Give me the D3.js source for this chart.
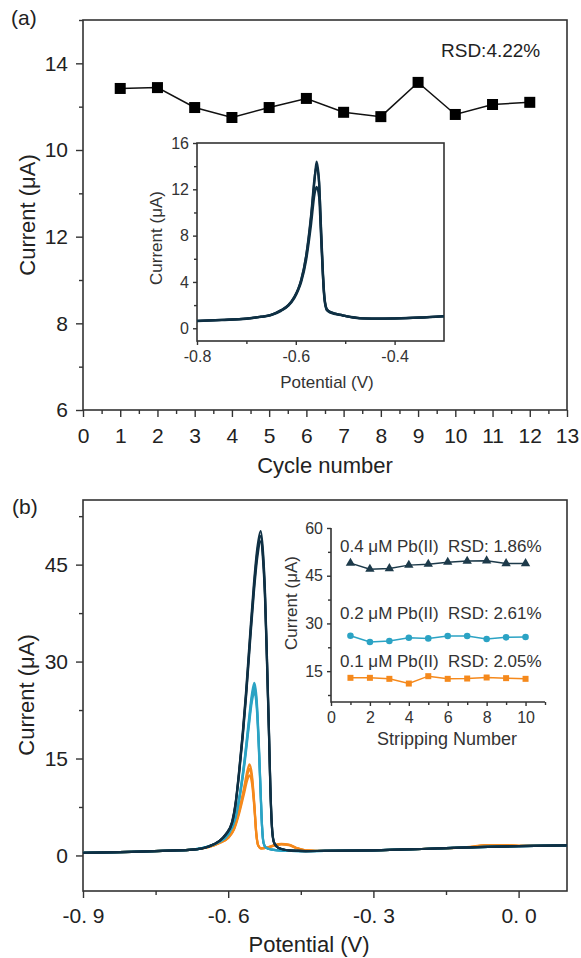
<!DOCTYPE html>
<html>
<head>
<meta charset="utf-8">
<script src="https://cdn.jsdelivr.net/npm/d3@7"></script>
<style>
  body { margin: 0; background: #fff; }
  svg { display: block; font-family: "Liberation Sans", Arial, sans-serif; }
</style>
</head>
<body>
<div id="chart"></div>
<script>
// ---------- Panel (a): repeated cycles ----------
const cycleNumber = [1, 2, 3, 4, 5, 6, 7, 8, 9, 10, 11, 12];
const cycleCurrent = [13.42, 13.44, 12.98, 12.75, 12.98, 13.19, 12.87, 12.77, 13.56, 12.82, 13.05, 13.10];
const cycleYTicks = [6, 8, 10, 12, 14];
const cycleYTickLabels = ["6", "8", "12", "10", "14"];   // as printed in the figure

// inset (a): stripping voltammograms
const insetPotential = [-0.80, -0.75, -0.70, -0.67, -0.65, -0.63, -0.615, -0.603, -0.595, -0.589, -0.579, -0.569,
  -0.562, -0.558, -0.553, -0.549, -0.545, -0.542, -0.537, -0.53, -0.505, -0.48, -0.465, -0.43, -0.40, -0.35, -0.30];
const insetScan1 = [0.63, 0.72, 0.83, 1.0, 1.15, 1.55, 2.0, 2.7, 3.4, 4.15, 6.2, 9.6, 12.8, 14.4, 12.8, 8.5, 4.5, 2.6, 1.6, 1.4, 1.12, 0.92, 0.86, 0.84, 0.85, 0.92, 1.05];
const insetScan2 = [0.64, 0.72, 0.84, 1.0, 1.16, 1.55, 2.0, 2.7, 3.4, 4.2, 6.3, 9.8, 13.0, 14.0, 12.6, 8.8, 4.8, 2.7, 1.65, 1.4, 1.12, 0.93, 0.86, 0.84, 0.86, 0.93, 1.05];
const insetScan3 = [0.62, 0.71, 0.82, 0.98, 1.13, 1.5, 1.95, 2.6, 3.3, 4.0, 5.9, 9.0, 11.6, 12.2, 11.4, 8.0, 4.4, 2.5, 1.55, 1.35, 1.1, 0.9, 0.85, 0.83, 0.84, 0.91, 1.03];

// ---------- Panel (b): three Pb(II) concentrations ----------
const potential01 = [-0.90, -0.80, -0.72, -0.674, -0.64, -0.62, -0.60, -0.588, -0.578, -0.568, -0.56, -0.556, -0.551, -0.546,
  -0.542, -0.538, -0.532, -0.52, -0.505, -0.49, -0.475, -0.46, -0.44, -0.40, -0.30, -0.20, -0.10, -0.07, -0.03, 0.0, 0.1];
const pb01Scan1 = [0.4, 0.55, 0.75, 0.9, 1.3, 1.9, 2.8, 4.2, 6.8, 10.2, 13.2, 14.1, 12.5, 8.0, 3.5, 1.6, 1.1, 1.2, 1.6, 1.8, 1.7, 1.2, 0.8, 0.7, 0.8, 1.0, 1.35, 1.6, 1.6, 1.5, 1.55];
const pb01Scan2 = [0.4, 0.55, 0.75, 0.9, 1.3, 1.85, 2.7, 4.0, 6.3, 9.3, 11.8, 12.4, 11.2, 7.4, 3.3, 1.5, 1.1, 1.2, 1.5, 1.7, 1.6, 1.15, 0.8, 0.7, 0.8, 1.0, 1.3, 1.5, 1.55, 1.5, 1.55];
const pb01Scan3 = [0.4, 0.55, 0.75, 0.9, 1.3, 1.9, 2.75, 4.1, 6.6, 9.8, 12.6, 13.4, 12.0, 7.7, 3.4, 1.55, 1.1, 1.2, 1.55, 1.75, 1.65, 1.2, 0.8, 0.7, 0.8, 1.0, 1.3, 1.55, 1.6, 1.5, 1.55];

const potential02 = [-0.90, -0.80, -0.72, -0.674, -0.64, -0.619, -0.60, -0.585, -0.575, -0.566, -0.558, -0.551, -0.546, -0.541,
  -0.537, -0.533, -0.530, -0.527, -0.522, -0.51, -0.49, -0.45, -0.40, -0.30, -0.20, -0.10, 0.0, 0.1];
const pb02Scan1 = [0.4, 0.55, 0.75, 0.9, 1.4, 2.1, 3.3, 6.0, 10.0, 15.0, 20.5, 25.0, 26.7, 24.0, 18.0, 10.0, 4.5, 2.0, 1.2, 0.9, 0.75, 0.68, 0.7, 0.8, 1.0, 1.25, 1.45, 1.55];
const pb02Scan2 = [0.4, 0.55, 0.75, 0.9, 1.4, 2.1, 3.2, 5.8, 9.6, 14.3, 19.5, 23.8, 25.3, 22.8, 17.0, 9.5, 4.3, 1.9, 1.2, 0.9, 0.75, 0.68, 0.7, 0.8, 1.0, 1.25, 1.45, 1.55];
const pb02Scan3 = [0.4, 0.55, 0.75, 0.9, 1.4, 2.1, 3.25, 5.9, 9.8, 14.7, 20.0, 24.4, 26.0, 23.4, 17.5, 9.8, 4.4, 1.95, 1.2, 0.9, 0.75, 0.68, 0.7, 0.8, 1.0, 1.25, 1.45, 1.55];

const potential04 = [-0.90, -0.80, -0.72, -0.674, -0.64, -0.619, -0.605, -0.592, -0.585, -0.578, -0.570, -0.563, -0.555, -0.547,
  -0.540, -0.533, -0.528, -0.524, -0.520, -0.516, -0.513, -0.510, -0.506, -0.50, -0.49, -0.47, -0.44, -0.40, -0.30, -0.20, -0.10, 0.0, 0.1];
const pb04Scan1 = [0.4, 0.55, 0.75, 0.9, 1.4, 2.2, 3.3, 5.2, 8.0, 12.7, 19.0, 25.5, 34.0, 42.0, 47.5, 50.2, 47.0, 41.0, 31.0, 20.0, 11.0, 5.0, 2.2, 1.4, 1.0, 0.75, 0.68, 0.7, 0.8, 1.0, 1.25, 1.45, 1.55];
const pb04Scan2 = [0.4, 0.55, 0.75, 0.9, 1.4, 2.2, 3.2, 5.0, 7.7, 12.2, 18.3, 24.6, 32.8, 40.6, 46.0, 48.6, 45.6, 39.8, 30.0, 19.4, 10.6, 4.8, 2.1, 1.4, 1.0, 0.75, 0.68, 0.7, 0.8, 1.0, 1.25, 1.45, 1.55];
const pb04Scan3 = [0.4, 0.55, 0.75, 0.9, 1.4, 2.2, 3.25, 5.1, 7.9, 12.5, 18.7, 25.0, 33.4, 41.3, 46.8, 49.4, 46.3, 40.4, 30.5, 19.7, 10.8, 4.9, 2.15, 1.4, 1.0, 0.75, 0.68, 0.7, 0.8, 1.0, 1.25, 1.45, 1.55];
const potentialTickLabels = ["-0. 9", "-0. 6", "-0. 3", "0. 0"];

// inset (b): stripping number stability
const strippingNumber = [1, 2, 3, 4, 5, 6, 7, 8, 9, 10];
const pb04Current = [48.96, 47.07, 47.28, 48.33, 48.64, 49.27, 49.59, 49.70, 48.85, 48.85];
const pb02Current = [26.14, 24.14, 24.46, 25.51, 25.30, 26.04, 26.04, 25.09, 25.62, 25.72];
const pb01Current = [12.90, 12.90, 12.58, 11.10, 13.42, 12.58, 12.68, 13.00, 12.80, 12.58];
const seriesLabels = ["0.4 μM Pb(II)  RSD: 1.86%", "0.2 μM Pb(II)  RSD: 2.61%", "0.1 μM Pb(II)  RSD: 2.05%"];

const W = 581, H = 958;
const DARK = "#0f3044", TEAL = "#2ba3c4", ORANGE = "#f5891c";
const AXIS = "#333";

const svg = d3.select("#chart").append("svg")
  .attr("width", W).attr("height", H)
  .attr("viewBox", [0, 0, W, H]);

// draws outward major + minor ticks on bottom/left, plus optional box
function drawAxes(g, x, y, o) {
  const [xl, xr] = x.range();
  const [yb, yt] = y.range();

  const gx = g.append("g").attr("transform", `translate(0,${yb})`);
  gx.append("g").call(d3.axisBottom(x).tickValues(o.xMajor).tickSize(o.tick)
      .tickPadding(o.xPad).tickFormat(o.xFmt));
  gx.append("g").call(d3.axisBottom(x).tickValues(o.xMinor).tickSize(o.minor).tickFormat(""));

  const gy = g.append("g").attr("transform", `translate(${xl},0)`);
  gy.append("g").call(d3.axisLeft(y).tickValues(o.yMajor).tickSize(o.tick)
      .tickPadding(o.yPad).tickFormat(o.yFmt));
  gy.append("g").call(d3.axisLeft(y).tickValues(o.yMinor).tickSize(o.minor).tickFormat(""));

  g.selectAll(".domain").remove();
  g.selectAll(".tick line").attr("stroke", AXIS).attr("stroke-width", 1.4);
  g.selectAll(".tick text").attr("fill", o.textColor || "#222")
    .style("font-size", o.fontSize + "px").attr("font-family", null);

  if (o.box) {
    g.append("rect").attr("x", xl).attr("y", yt)
      .attr("width", xr - xl).attr("height", yb - yt)
      .attr("fill", "none").attr("stroke", AXIS).attr("stroke-width", 1.6);
  } else {
    g.append("path").attr("d", `M${xl},${yt}V${yb}H${xr}`)
      .attr("fill", "none").attr("stroke", AXIS).attr("stroke-width", 1.6);
  }
}

function label(g, text, x, y, size, opts = {}) {
  const t = g.append("text").attr("x", x).attr("y", y)
    .attr("text-anchor", opts.anchor || "middle")
    .attr("fill", opts.color || "#222")
    .style("font-size", size + "px")
    .style("white-space", "pre")
    .text(text);
  if (opts.rotate) t.attr("transform", `rotate(-90,${x},${y})`);
  return t;
}

// =============== Panel (a) ===============
const gA = svg.append("g");
const xA = d3.scaleLinear().domain([0, 13]).range([83, 567]);
const yA = d3.scaleLinear().domain([6, 15]).range([410, 20]);

drawAxes(gA, xA, yA, {
  xMajor: d3.range(0, 14), xMinor: d3.range(0.5, 13, 1),
  yMajor: cycleYTicks, yMinor: [7, 9, 11, 13, 15],
  xFmt: d => d, yFmt: (d, i) => cycleYTickLabels[i],
  tick: 7, minor: 4, xPad: 11, yPad: 8, fontSize: 21, box: true
});

gA.append("path")
  .datum(cycleNumber.map((c, i) => [c, cycleCurrent[i]]))
  .attr("fill", "none").attr("stroke", "#111").attr("stroke-width", 1.5)
  .attr("d", d3.line().x(d => xA(d[0])).y(d => yA(d[1])));

gA.selectAll("rect.pt")
  .data(cycleNumber.map((c, i) => [c, cycleCurrent[i]]))
  .join("rect").attr("class", "pt")
  .attr("x", d => xA(d[0]) - 5.5).attr("y", d => yA(d[1]) - 5.5)
  .attr("width", 11).attr("height", 11).attr("fill", "#000");

label(gA, "RSD:4.22%", 441, 57, 19, { anchor: "start" });
label(gA, "(a)", 11, 25, 21, { anchor: "start" });
label(gA, "Cycle number", 325, 473, 22);
label(gA, "Current (μA)", 35, 215, 22, { rotate: true });

// inset (a)
const gAi = svg.append("g");
const xAi = d3.scaleLinear().domain([-0.8, -0.3]).range([197, 444]);
const yAi = d3.scaleLinear().domain([-1.1, 16]).range([341, 143]);
gAi.append("rect").attr("x", 197).attr("y", 143).attr("width", 247).attr("height", 198).attr("fill", "#fff");

drawAxes(gAi, xAi, yAi, {
  xMajor: [-0.8, -0.6, -0.4], xMinor: [-0.7, -0.5],
  yMajor: [0, 4, 8, 12, 16], yMinor: [2, 6, 10, 14],
  xFmt: d => d.toFixed(1), yFmt: d => d,
  tick: 4, minor: 3, xPad: 6, yPad: 4, fontSize: 16, textColor: "#333", box: true
});

const lineAi = d3.line().x(d => xAi(d[0])).y(d => yAi(d[1])).curve(d3.curveMonotoneX);
[insetScan3, insetScan2, insetScan1].forEach(scan => {
  gAi.append("path")
    .datum(insetPotential.map((p, i) => [p, scan[i]]))
    .attr("fill", "none").attr("stroke", DARK).attr("stroke-width", 2.3)
    .attr("d", lineAi);
});

label(gAi, "Potential (V)", 327, 388, 17, { color: "#333" });
label(gAi, "Current (μA)", 162, 238, 17, { rotate: true, color: "#333" });

// =============== Panel (b) ===============
const gB = svg.append("g");
const xB = d3.scaleLinear().domain([-0.9, 0.1]).range([83, 567]);
const yB = d3.scaleLinear().domain([-5.5, 55]).range([891, 500]);

drawAxes(gB, xB, yB, {
  xMajor: [-0.9, -0.6, -0.3, 0.0], xMinor: [-0.75, -0.45, -0.15],
  yMajor: [0, 15, 30, 45], yMinor: [7.5, 22.5, 37.5, 52.5],
  xFmt: (d, i) => potentialTickLabels[i], yFmt: d => d,
  tick: 7, minor: 4, xPad: 10, yPad: 8, fontSize: 21, box: true
});

const lineB = d3.line().x(d => xB(d[0])).y(d => yB(d[1])).curve(d3.curveMonotoneX);
const scansB = [
  { p: potential01, v: pb01Scan2, c: ORANGE },
  { p: potential01, v: pb01Scan3, c: ORANGE },
  { p: potential01, v: pb01Scan1, c: ORANGE },
  { p: potential02, v: pb02Scan2, c: TEAL },
  { p: potential02, v: pb02Scan3, c: TEAL },
  { p: potential02, v: pb02Scan1, c: TEAL },
  { p: potential04, v: pb04Scan2, c: DARK },
  { p: potential04, v: pb04Scan3, c: DARK },
  { p: potential04, v: pb04Scan1, c: DARK }
];
scansB.forEach(s => {
  gB.append("path")
    .datum(s.p.map((p, i) => [p, s.v[i]]))
    .attr("fill", "none").attr("stroke", s.c).attr("stroke-width", 2.2)
    .attr("d", lineB);
});

label(gB, "(b)", 12, 514, 21, { anchor: "start" });
label(gB, "Potential (V)", 309, 952, 22);
label(gB, "Current (μA)", 34, 695, 22, { rotate: true });

// inset (b)
const gBi = svg.append("g");
const xBi = d3.scaleLinear().domain([0, 11]).range([331, 545]);
const yBi = d3.scaleLinear().domain([5.3, 60]).range([702, 528]);

drawAxes(gBi, xBi, yBi, {
  xMajor: [0, 2, 4, 6, 8, 10], xMinor: [1, 3, 5, 7, 9, 11],
  yMajor: [15, 30, 45, 60], yMinor: [7.5, 22.5, 37.5, 52.5],
  xFmt: d => d, yFmt: d => d,
  tick: 4, minor: 3, xPad: 6, yPad: 4, fontSize: 16, textColor: "#333", box: false
});

const lineBi = d3.line().x(d => xBi(d[0])).y(d => yBi(d[1]));
const insetSeries = [
  { v: pb04Current, c: "#1d3a4a", sym: d3.symbolTriangle, size: 38 },
  { v: pb02Current, c: TEAL, sym: d3.symbolCircle, size: 34 },
  { v: pb01Current, c: ORANGE, sym: d3.symbolSquare, size: 36 }
];
insetSeries.forEach(s => {
  const pts = strippingNumber.map((n, i) => [n, s.v[i]]);
  gBi.append("path").datum(pts)
    .attr("fill", "none").attr("stroke", s.c).attr("stroke-width", 1.5)
    .attr("d", lineBi);
  gBi.append("g").selectAll("path").data(pts).join("path")
    .attr("transform", d => `translate(${xBi(d[0])},${yBi(d[1])})`)
    .attr("d", d3.symbol(s.sym, s.size)).attr("fill", s.c);
});

const seriesLabelY = [552, 619, 667];
seriesLabels.forEach((t, i) => label(gBi, t, 340, seriesLabelY[i], 17, { anchor: "start", color: "#333" }));

label(gBi, "Stripping Number", 447, 745, 18, { color: "#333" });
label(gBi, "Current (μA)", 297, 603, 17, { rotate: true, color: "#333" });
</script>
</body>
</html>
